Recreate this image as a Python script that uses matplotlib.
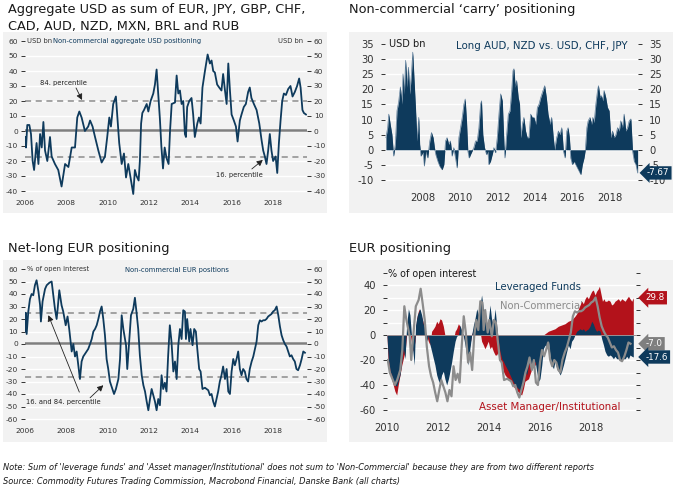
import matplotlib
matplotlib.use("Agg")
import matplotlib.pyplot as plt
from matplotlib.patches import Rectangle
from matplotlib.transforms import blended_transform_factory
import numpy as np

plt.rcParams['font.family'] = ['DejaVu Sans']
plt.rcParams['axes.unicode_minus'] = False

W, H = 680, 492
NAVY = '#0e3a5c'
RED = '#b3121b'
GREY = '#8a8a8a'
BG = '#f2f2f2'
TXT = '#333333'

# --- aggregate USD positioning (USD bn) ---
usd_years = [
    2006.00, 2006.05, 2006.11, 2006.21, 2006.29, 2006.37, 2006.44, 2006.56, 2006.65, 2006.73,
    2006.81, 2006.89, 2006.97, 2007.08, 2007.21, 2007.29, 2007.45, 2007.61, 2007.77, 2007.94,
    2008.10, 2008.26, 2008.42, 2008.53, 2008.63, 2008.74, 2008.90, 2009.06, 2009.15, 2009.27,
    2009.39, 2009.55, 2009.71, 2009.87, 2009.98, 2010.08, 2010.16, 2010.27, 2010.40, 2010.47,
    2010.56, 2010.68, 2010.79, 2010.89, 2011.00, 2011.13, 2011.24, 2011.32, 2011.40, 2011.50,
    2011.56, 2011.62, 2011.68, 2011.76, 2011.89, 2011.97, 2012.08, 2012.21, 2012.29, 2012.37,
    2012.45, 2012.53, 2012.60, 2012.68, 2012.76, 2012.85, 2012.95, 2013.02, 2013.10, 2013.26,
    2013.34, 2013.42, 2013.50, 2013.58, 2013.66, 2013.74, 2013.79, 2013.85, 2013.95, 2014.06,
    2014.14, 2014.22, 2014.34, 2014.42, 2014.50, 2014.59, 2014.71, 2014.84, 2014.95, 2015.03,
    2015.11, 2015.19, 2015.30, 2015.40, 2015.51, 2015.59, 2015.68, 2015.76, 2015.84, 2015.92,
    2016.00, 2016.11, 2016.21, 2016.29, 2016.40, 2016.48, 2016.59, 2016.69, 2016.80, 2016.88,
    2016.96, 2017.08, 2017.21, 2017.34, 2017.45, 2017.53, 2017.61, 2017.69, 2017.77, 2017.85,
    2017.93, 2018.01, 2018.13, 2018.21, 2018.29, 2018.37, 2018.45, 2018.53, 2018.63, 2018.74,
    2018.85, 2018.95, 2019.06, 2019.17, 2019.27, 2019.34, 2019.43, 2019.50, 2019.60]
usd_vals = [
    -4, -11, 4, 4, -2, -20, -26, -8, -22, -2,
    -11, 6, -13, -20, -4, -17, -22, -26, -37, -22,
    -24, -11, -11, 9, 13, 9, 0, 3, 7, 3,
    -4, -13, -21, -17, -4, 9, 3, 18, 23, 9,
    -8, -22, -15, -31, -22, -33, -42, -26, -30, -33,
    -20, 5, 12, 14, 18, 13, 20, 25, 31, 41,
    25, 8, -10, -25, -11, -18, -22, 0, 18, 19,
    37, 25, 27, 18, 20, -2, -4, 16, 20, 22,
    11, -4, 5, 9, 5, 29, 40, 51, 45, 47,
    40, 39, 31, 29, 27, 38, 27, 18, 45, 27,
    11, 7, 3, -7, 7, 11, 16, 18, 26, 29,
    22, 18, 14, 5, -6, -13, -17, -22, -13, -2,
    -13, -20, -17, -28, -8, 7, 20, 25, 24, 28,
    30, 23, 26, 30, 35, 29, 14, 12, 11]
usd_pct = [20, -17]

# --- carry positioning (USD bn) ---
carry_years = [
    2006.05, 2006.14, 2006.20, 2006.28, 2006.37, 2006.46, 2006.55, 2006.64, 2006.73, 2006.82,
    2006.91, 2006.96, 2007.03, 2007.10, 2007.18, 2007.25, 2007.32, 2007.41, 2007.48, 2007.53,
    2007.62, 2007.71, 2007.80, 2007.85, 2007.92, 2008.03, 2008.10, 2008.17, 2008.28, 2008.39,
    2008.48, 2008.57, 2008.64, 2008.71, 2008.82, 2008.92, 2009.05, 2009.14, 2009.23, 2009.31,
    2009.40, 2009.49, 2009.58, 2009.67, 2009.76, 2009.85, 2009.94, 2010.03, 2010.12, 2010.21,
    2010.28, 2010.35, 2010.42, 2010.49, 2010.56, 2010.65, 2010.74, 2010.83, 2010.92, 2011.01,
    2011.10, 2011.15, 2011.22, 2011.31, 2011.42, 2011.49, 2011.54, 2011.63, 2011.72, 2011.81,
    2011.90, 2011.99, 2012.08, 2012.17, 2012.26, 2012.35, 2012.40, 2012.49, 2012.58, 2012.67,
    2012.76, 2012.83, 2012.88, 2012.95, 2013.02, 2013.11, 2013.18, 2013.24, 2013.33, 2013.41,
    2013.50, 2013.59, 2013.68, 2013.77, 2013.86, 2013.95, 2014.04, 2014.13, 2014.22, 2014.31,
    2014.43, 2014.52, 2014.61, 2014.70, 2014.81, 2014.89, 2014.98, 2015.05, 2015.16, 2015.25,
    2015.34, 2015.43, 2015.52, 2015.61, 2015.70, 2015.77, 2015.84, 2015.91, 2016.00, 2016.09,
    2016.18, 2016.27, 2016.36, 2016.45, 2016.53, 2016.62, 2016.69, 2016.77, 2016.84, 2016.94,
    2017.02, 2017.09, 2017.16, 2017.25, 2017.34, 2017.39, 2017.48, 2017.55, 2017.62, 2017.69,
    2017.78, 2017.87, 2017.96, 2018.05, 2018.14, 2018.23, 2018.32, 2018.41, 2018.50, 2018.58,
    2018.67, 2018.76, 2018.85, 2018.94, 2019.03, 2019.12, 2019.21, 2019.30, 2019.39, 2019.48]
carry_vals = [
    4, 7.3, 11.8, 8.4, 5, -2.1, 1.8, 12.9, 16, 20.8,
    15.1, 25.1, 18.4, 29.6, 20.7, 27.3, 18.4, 25.1, 32.3, 26,
    15, 2.9, 10.7, 1.8, -2.1, -0.7, -5.4, -0.4, -2.7, 2.9,
    5.7, 4, 0.7, -1.6, -3.8, -5.4, -6.6, -4.9, 2.9, 4,
    1.8, 2.9, -2.1, 0.7, -2.7, -6, 4, 7.3, 10.7, 15.1,
    16.8, 9.6, -0.4, -2.7, -1.6, -0.4, 0.7, 2.9, 2.9, 7.3,
    15.1, 16.2, 5, 0.7, -1.6, -0.4, -4.9, -3.8, -1.6, 0.7,
    -1, 4, 11.8, 18.5, 16.2, 1.8, -2.7, 5, 11.8, 12.9,
    19.6, 26.2, 26.8, 20.7, 22.9, 17.3, 15.1, 4, 8.4, 10.7,
    6.2, 4, 4, 11.8, 10.7, 10.7, 8.4, 14, 15.1, 17.3,
    19.6, 21.2, 17.3, 11.8, 8.4, 10.7, 4, 0, 4, 6.2,
    5, 7.3, -0.4, -2.7, 6.2, 7.3, 4, -2.7, -4.9, -3.8,
    -4.9, -6, -7.1, -8.2, -4.9, -2.7, 0, 7.3, 9.6, 10.7,
    8.4, 10.7, 9, 15.1, 19.6, 21.2, 17.3, 17.9, 16.2, 19.6,
    17.3, 14, 12.9, 4, 6.2, 4, 5, 7.3, 6.2, 9.6,
    7.3, 11.8, 6.2, 7.3, 9.6, 10.2, -0.4, -3.8, -4.9, -7.67]

# --- non-commercial EUR positions (% of open interest) ---
eur_years = [
    2006.00, 2006.03, 2006.08, 2006.16, 2006.24, 2006.32, 2006.40, 2006.48, 2006.56, 2006.65,
    2006.73, 2006.77, 2006.85, 2006.97, 2007.05, 2007.18, 2007.29, 2007.37, 2007.45, 2007.53,
    2007.58, 2007.66, 2007.77, 2007.85, 2007.97, 2008.06, 2008.14, 2008.26, 2008.34, 2008.42,
    2008.50, 2008.58, 2008.66, 2008.74, 2008.82, 2008.90, 2008.98, 2009.06, 2009.15, 2009.23,
    2009.31, 2009.39, 2009.47, 2009.55, 2009.63, 2009.71, 2009.79, 2009.87, 2009.95, 2010.03,
    2010.11, 2010.19, 2010.31, 2010.40, 2010.52, 2010.60, 2010.68, 2010.76, 2010.89, 2010.95,
    2011.05, 2011.13, 2011.24, 2011.32, 2011.40, 2011.48, 2011.56, 2011.65, 2011.73, 2011.81,
    2011.89, 2011.97, 2012.05, 2012.13, 2012.21, 2012.29, 2012.37, 2012.45, 2012.53, 2012.61,
    2012.69, 2012.77, 2012.85, 2012.93, 2013.01, 2013.09, 2013.18, 2013.26, 2013.34, 2013.42,
    2013.50, 2013.58, 2013.66, 2013.74, 2013.79, 2013.85, 2013.95, 2014.01, 2014.11, 2014.19,
    2014.27, 2014.34, 2014.43, 2014.50, 2014.59, 2014.71, 2014.79, 2014.87, 2014.95, 2015.03,
    2015.11, 2015.19, 2015.27, 2015.35, 2015.43, 2015.51, 2015.59, 2015.68, 2015.76, 2015.84,
    2015.92, 2016.00, 2016.08, 2016.16, 2016.24, 2016.32, 2016.40, 2016.48, 2016.56, 2016.64,
    2016.72, 2016.80, 2016.88, 2016.97, 2017.05, 2017.13, 2017.21, 2017.29, 2017.37, 2017.45,
    2017.53, 2017.61, 2017.69, 2017.77, 2017.85, 2017.93, 2018.01, 2018.09, 2018.18, 2018.26,
    2018.34, 2018.42, 2018.50, 2018.58, 2018.66, 2018.74, 2018.82, 2018.90, 2018.98, 2019.06,
    2019.14, 2019.22, 2019.31, 2019.39, 2019.47, 2019.55]
eur_vals = [
    10, 25, 8, 26, 36, 40, 39, 47, 51, 42,
    31, 18, 34, 44, 47, 49, 50, 39, 28, 20,
    28, 43, 31, 26, 15, 22, 12, -6, 0, -10,
    -6, -17, -28, -14, -10, -8, -6, -4, 0, 4,
    10, 12, 15, 20, 26, 30, 20, 7, -12, -20,
    -30, -34, -40, -36, -28, -12, 23, 12, -1, -20,
    4, 23, 28, 37, 25, 12, -9, -25, -33, -38,
    -46, -53, -44, -36, -41, -46, -53, -44, -49, -25,
    -36, -31, -38, -9, 15, 2, -22, -14, -28, -1,
    12, 4, 27, 26, 4, 20, 2, 12, -1, 12,
    10, -4, -20, -22, -36, -35, -36, -37, -41, -40,
    -46, -50, -44, -38, -30, -25, -18, -28, -20, -38,
    -40, -22, -12, -17, -12, -6, -20, -25, -20, -22,
    -28, -30, -20, -14, -10, -4, 2, 15, 19, 18,
    19, 19, 20, 22, 23, 24, 26, 27, 30, 23,
    14, 7, 3, 0, -2, -6, -10, -9, -12, -14,
    -20, -21, -17, -12, -6, -7]
eur_pct = [24.5, -26.5]

# --- EUR positioning by trader type (% of open interest) ---
lev_years = [
    2010.00, 2010.05, 2010.12, 2010.18, 2010.25, 2010.31, 2010.38, 2010.44, 2010.51, 2010.58,
    2010.64, 2010.71, 2010.77, 2010.84, 2010.90, 2010.97, 2011.03, 2011.07, 2011.12, 2011.19,
    2011.25, 2011.29, 2011.36, 2011.42, 2011.49, 2011.56, 2011.62, 2011.69, 2011.75, 2011.82,
    2011.88, 2011.95, 2012.01, 2012.08, 2012.14, 2012.21, 2012.27, 2012.34, 2012.41, 2012.47,
    2012.54, 2012.60, 2012.67, 2012.73, 2012.80, 2012.86, 2012.93, 2012.99, 2013.06, 2013.12,
    2013.19, 2013.25, 2013.32, 2013.39, 2013.45, 2013.52, 2013.59, 2013.65, 2013.71, 2013.78,
    2013.84, 2013.91, 2013.97, 2014.04, 2014.10, 2014.17, 2014.24, 2014.30, 2014.37, 2014.43,
    2014.50, 2014.56, 2014.63, 2014.76, 2014.89, 2015.02, 2015.15, 2015.26, 2015.35, 2015.41,
    2015.48, 2015.55, 2015.61, 2015.68, 2015.74, 2015.81, 2015.87, 2015.94, 2016.00, 2016.07,
    2016.13, 2016.20, 2016.26, 2016.33, 2016.39, 2016.46, 2016.53, 2016.59, 2016.66, 2016.72,
    2016.79, 2016.85, 2016.92, 2016.98, 2017.05, 2017.11, 2017.18, 2017.24, 2017.31, 2017.37,
    2017.44, 2017.51, 2017.57, 2017.64, 2017.70, 2017.77, 2017.83, 2017.90, 2017.96, 2018.03,
    2018.09, 2018.16, 2018.22, 2018.29, 2018.36, 2018.42, 2018.49, 2018.55, 2018.62, 2018.68,
    2018.75, 2018.81, 2018.88, 2018.94, 2019.01, 2019.07, 2019.14, 2019.21, 2019.27, 2019.34,
    2019.40, 2019.47, 2019.53, 2019.60, 2019.66]
lev_vals = [
    -1, -19, -29, -32, -37, -40, -41, -37, -32, -21,
    -11, -19, 8, 21, 16, -3, -16, -24, 8, 16,
    19, 21, 16, 9, 5, -5, 0, -8, -13, -19,
    -24, -32, -36, -39, -32, -29, -35, -40, -35, -29,
    -21, -13, -5, -1, 0, 8, 3, 0, -8, -16,
    -24, -11, 0, 8, 13, 21, 16, 24, 32, 21,
    16, 3, 11, 24, 13, 8, 21, 8, -5, -13,
    -19, -21, -24, -29, -35, -40, -43, -44, -35, -29,
    -32, -24, -21, -24, -24, -21, -29, -37, -35, -24,
    -11, -8, -11, -5, -16, -24, -27, -21, -27, -29,
    -32, -29, -24, -19, -13, -8, -11, -5, -3, 0,
    3, 4, 5, 4, 5, 3, 4, 5, 7, 11,
    9, 5, 3, 4, 3, -3, -8, -13, -16, -17,
    -16, -17, -19, -17, -19, -19, -20, -20, -19, -19,
    -17, -19, -16, -17, -17.6]

am_years = [
    2010.00, 2010.05, 2010.18, 2010.31, 2010.38, 2010.44, 2010.58, 2010.71, 2010.77, 2010.84,
    2010.90, 2010.97, 2011.03, 2011.10, 2011.16, 2011.23, 2011.27, 2011.33, 2011.41, 2011.49,
    2011.56, 2011.62, 2011.69, 2011.75, 2011.82, 2011.88, 2011.95, 2012.01, 2012.08, 2012.14,
    2012.21, 2012.27, 2012.34, 2012.41, 2012.47, 2012.54, 2012.60, 2012.67, 2012.73, 2012.80,
    2012.86, 2012.93, 2012.99, 2013.06, 2013.12, 2013.19, 2013.25, 2013.32, 2013.39, 2013.45,
    2013.52, 2013.59, 2013.65, 2013.71, 2013.78, 2013.84, 2013.91, 2013.97, 2014.04, 2014.10,
    2014.17, 2014.24, 2014.30, 2014.37, 2014.43, 2014.50, 2014.56, 2014.63, 2014.83, 2015.02,
    2015.22, 2015.28, 2015.35, 2015.41, 2015.55, 2015.68, 2015.81, 2015.94, 2016.00, 2016.07,
    2016.13, 2016.20, 2016.33, 2016.46, 2016.59, 2016.72, 2016.85, 2016.98, 2017.11, 2017.24,
    2017.37, 2017.44, 2017.51, 2017.57, 2017.64, 2017.70, 2017.77, 2017.83, 2017.90, 2017.96,
    2018.03, 2018.09, 2018.16, 2018.22, 2018.29, 2018.33, 2018.39, 2018.45, 2018.51, 2018.55,
    2018.62, 2018.68, 2018.75, 2018.81, 2018.88, 2018.94, 2019.01, 2019.07, 2019.14, 2019.21,
    2019.27, 2019.34, 2019.40, 2019.47, 2019.53, 2019.60, 2019.66]
am_vals = [
    0, -24, -35, -45, -48, -40, -24, -13, 0, 8,
    3, -8, -13, -5, 13, 19, 21, 16, 11, 3,
    -1, -5, -8, 3, 5, 7, 11, 9, 13, 12,
    7, 0, -5, -13, -19, -13, -5, 3, 5, 9,
    7, 3, 0, -5, -11, -13, -8, 0, 5, 11,
    13, 9, 3, -5, -8, -11, -8, -5, -11, -9,
    -13, -16, -16, -13, -19, -24, -29, -32, -37, -43,
    -47, -48, -43, -37, -35, -27, -24, -21, -16, -8,
    0, 1, 3, 4, 5, 7, 8, 9, 11, 12,
    15, 17, 21, 24, 27, 25, 29, 31, 29, 32,
    35, 36, 32, 35, 37, 39, 33, 27, 29, 27,
    27, 28, 27, 24, 25, 27, 28, 29, 27, 29,
    28, 27, 29, 31, 29, 27, 29.8]


fig = plt.figure(figsize=(W / 100, H / 100), dpi=100)


def px_rect(l, t, r, b):
    return [l / W, 1 - b / H, (r - l) / W, (b - t) / H]


def panel_bg(l, t, r, b):
    fig.patches.append(Rectangle((l / W, 1 - b / H), (r - l) / W, (b - t) / H,
                                 transform=fig.transFigure, fc=BG, ec='none', zorder=-5))


def title(x, y, s):
    fig.text(x / W, 1 - y / H, s, fontsize=9.3, color='#1a1a1a', va='top', ha='left',
             linespacing=1.38)


def base_axes(rect, xlim, ylim, fs, yticks, ylabels=True):
    ax = fig.add_axes(px_rect(*rect))
    ax.set_facecolor('none')
    for s in ax.spines.values():
        s.set_visible(False)
    ax.set_xlim(*xlim)
    ax.set_ylim(*ylim)
    ax.set_yticks(yticks)
    ax.tick_params(axis='y', left=True, right=True, labelleft=ylabels, labelright=ylabels,
                   direction='out', length=3, width=0.7, colors=TXT, labelsize=fs)
    ax.tick_params(axis='x', colors=TXT, labelsize=fs, length=0)
    return ax


ARROW = dict(arrowstyle='-|>,head_length=0.35,head_width=0.18', color='#222222',
             lw=0.6, shrinkA=0, shrinkB=0)

# ---------------- panel 1: aggregate USD ----------------
panel_bg(3, 32, 327, 213)
title(8, 3, 'Aggregate USD as sum of EUR, JPY, GBP, CHF,\nCAD, AUD, NZD, MXN, BRL and RUB')
ax1 = base_axes((25, 36.5, 307, 197), (2006, 2019.65), (-44, 63), 5.4, np.arange(-40, 61, 10))
ax1.tick_params(axis='y', pad=2)
ax1.tick_params(axis='x', pad=2.5)
ax1.set_xticks(np.arange(2006, 2019, 2))
for g in np.arange(-40, 51, 10):
    ax1.axhline(g, color='white', lw=1.0, zorder=0.5)
ax1.axhline(1, color='#7f7f7f', lw=1.8, zorder=1)
for p in usd_pct:
    ax1.axhline(p, color='#8c8c8c', lw=1.1, ls=(0, (4, 3)), zorder=1)
ax1.plot(usd_years, usd_vals, color=NAVY, lw=1.3, zorder=3)
ax1.text(2006.1, 60, 'USD bn', fontsize=4.9, color=TXT, va='center')
ax1.text(2007.35, 60, 'Non-commercial aggregate USD positioning', fontsize=4.9, color=NAVY,
         va='center')
ax1.text(2019.45, 60, 'USD bn', fontsize=4.9, color=TXT, va='center', ha='right')
ax1.text(2007.85, 32, '84. percentile', fontsize=4.9, color='#222222', ha='center', va='center')
ax1.annotate('', xy=(2008.76, 20.7), xytext=(2008.47, 28.7), arrowprops=ARROW)
ax1.text(2016.4, -29.3, '16. percentile', fontsize=4.9, color='#222222', ha='center', va='center')
ax1.annotate('', xy=(2017.51, -19.3), xytext=(2016.98, -25.3), arrowprops=ARROW)

# ---------------- panel 2: carry positioning ----------------
panel_bg(349, 32, 673, 213)
title(349, 3, 'Non-commercial \u2018carry\u2019 positioning')
ax2 = base_axes((385, 38, 638, 184.5), (2006, 2019.5), (-11.5, 37), 7.2, np.arange(-10, 36, 5))
ax2.tick_params(axis='y', which='both', pad=5)
ax2.tick_params(axis='x', pad=6)
ax2.set_xticks(np.arange(2008, 2019, 2))
for g in np.arange(-10, 31, 5):
    ax2.axhline(g, color='white', lw=1.0, zorder=0.5)
ax2.fill_between(carry_years, carry_vals, 0, color=NAVY, lw=0, zorder=2)
ax2.plot(carry_years, carry_vals, color='#5f7f9c', lw=0.5, zorder=1.8)
ax2.text(2006.2, 35, 'USD bn', fontsize=7.0, color='#1a1a1a', va='center')
ax2.text(2018.95, 34.3, 'Long AUD, NZD vs. USD, CHF, JPY', fontsize=7.4, color=NAVY,
         va='center', ha='right')
tr2 = blended_transform_factory(ax2.transAxes, ax2.transData)
ax2.text(1.035, carry_vals[-1], '%.2f' % carry_vals[-1], transform=tr2, fontsize=6.3,
         color='white', va='center', ha='left', zorder=5,
         bbox=dict(boxstyle='larrow,pad=0.25', fc=NAVY, ec='none'))

# ---------------- panel 3: net-long EUR ----------------
panel_bg(3, 260, 327, 442)
title(8, 242, 'Net-long EUR positioning')
ax3 = base_axes((25, 265.25, 307, 422.75), (2006, 2019.65), (-63, 63), 5.4, np.arange(-60, 61, 10))
ax3.tick_params(axis='y', pad=2)
ax3.tick_params(axis='x', pad=4)
ax3.set_xticks(np.arange(2006, 2019, 2))
for g in np.arange(-60, 51, 10):
    ax3.axhline(g, color='white', lw=1.0, zorder=0.5)
ax3.axhline(0.5, color='#7f7f7f', lw=1.8, zorder=1)
for p in eur_pct:
    ax3.axhline(p, color='#8c8c8c', lw=1.1, ls=(0, (4, 3)), zorder=1)
ax3.plot(eur_years, eur_vals, color=NAVY, lw=1.3, zorder=3)
ax3.text(2006.1, 60, '% of open interest', fontsize=4.9, color=TXT, va='center')
ax3.text(2013.35, 59.5, 'Non-commercial EUR positions', fontsize=4.9, color=NAVY,
         va='center', ha='center')
ax3.text(2007.85, -46.4, '16. and 84. percentile', fontsize=4.9, color='#222222',
         ha='center', va='center')
ax3.annotate('', xy=(2007.13, 23.0), xytext=(2008.63, -38.5), arrowprops=ARROW)
ax3.annotate('', xy=(2009.79, -33.0), xytext=(2009.15, -43.0), arrowprops=ARROW)

# ---------------- panel 4: EUR positioning by trader type ----------------
panel_bg(349, 260, 673, 442)
title(349, 242, 'EUR positioning')
ax4 = base_axes((387, 270, 635.6, 413.75), (2010, 2019.75), (-63, 52), 7.2,
                np.arange(-60, 41, 20))
ax4.set_yticks(np.arange(-60, 51, 10), minor=True)
ax4.tick_params(axis='y', which='both', left=True, right=True, direction='out', length=3,
                width=0.7, colors=TXT, pad=5)
ax4.tick_params(axis='y', labelright=False)
ax4.tick_params(axis='x', pad=7)
ax4.set_xticks(np.arange(2010, 2019, 2))
for g in np.arange(-60, 41, 10):
    ax4.axhline(g, color='white', lw=1.0, zorder=0.5)
ax4.text(2014.45, 23, 'Non-Commercial', fontsize=7.2, color='#8c8c8c', va='center', zorder=1)
ax4.fill_between(am_years, am_vals, 0, color=RED, lw=0, zorder=2)
ax4.fill_between(lev_years, lev_vals, 0, color=NAVY, lw=0, zorder=3)
ax4.axhline(0, color='#9a8f94', lw=0.7, zorder=3.5)
nc_years = [y for y in eur_years if y >= 2010]
nc_vals = [v for y, v in zip(eur_years, eur_vals) if y >= 2010]
ax4.plot(nc_years, nc_vals, color='#8c8c8c', lw=1.6, zorder=4)
ax4.text(2010.05, 48.5, '% of open interest', fontsize=6.9, color='#1a1a1a', va='center')
ax4.text(2014.25, 38, 'Leveraged Funds', fontsize=7.3, color=NAVY, va='center', zorder=6)
ax4.text(2013.6, -57.5, 'Asset Manager/Institutional', fontsize=7.4, color=RED, va='center',
         zorder=6)
tr4 = blended_transform_factory(ax4.transAxes, ax4.transData)
for val, col in [(am_vals[-1], RED), (nc_vals[-1], '#7f7f7f'), (lev_vals[-1], NAVY)]:
    ax4.text(1.04, val, '%.1f' % val, transform=tr4, fontsize=6.3, color='white',
             va='center', ha='left', zorder=7,
             bbox=dict(boxstyle='larrow,pad=0.25', fc=col, ec='none'))

# ---------------- notes ----------------
fig.text(3 / W, 1 - 468 / H,
         "Note: Sum of 'leverage funds' and 'Asset manager/Institutional' does not sum to "
         "'Non-Commercial' because they are from two different reports",
         fontsize=5.95, style='italic', color='#1a1a1a', va='center')
fig.text(3 / W, 1 - 481 / H,
         'Source: Commodity Futures Trading Commission, Macrobond Financial, Danske Bank (all charts)',
         fontsize=5.95, style='italic', color='#1a1a1a', va='center')

fig.savefig('out.png', dpi=100)
